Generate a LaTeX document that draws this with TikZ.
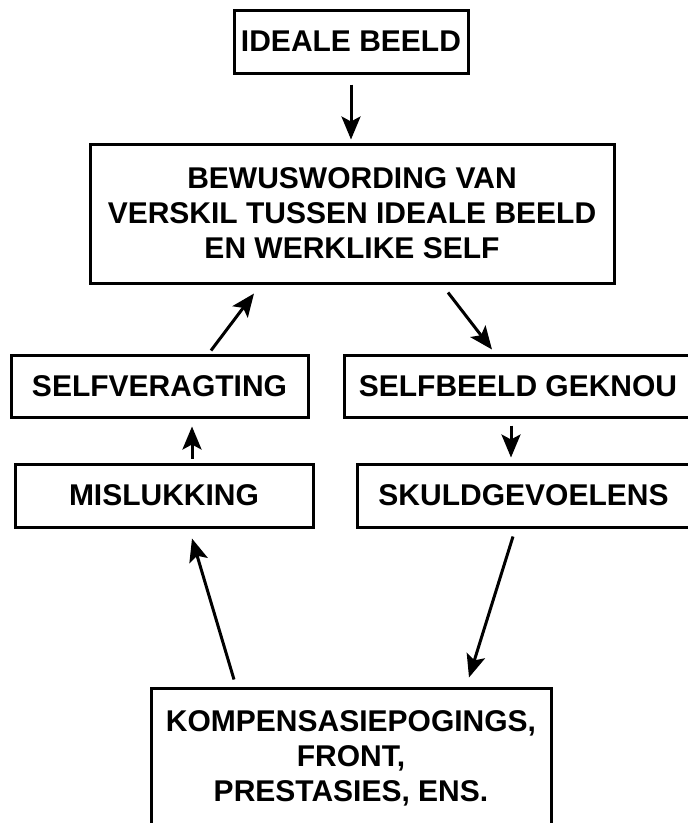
\documentclass[tikz,border=0pt]{standalone}
\usepackage{fontspec}
\setmainfont{Liberation Sans}
\usetikzlibrary{arrows.meta}

\begin{document}
\begin{tikzpicture}[x=1pt,y=-1pt,
    box/.style={draw,line width=3pt,inner sep=0pt,align=center,
      font=\fontsize{30}{35}\selectfont\bfseries},
    arr/.style={line width=3pt,-{Stealth[length=23pt,width=19pt,inset=5pt]}}]
  \useasboundingbox (0,0) rectangle (688,823);

% top boxes
  \node[box,minimum width=234,minimum height=63] (ideal) at (351,41.5) {IDEALE BEELD};
  \node[box,minimum width=524,minimum height=139] (bewus) at (352,213.5)
       {BEWUSWORDING VAN\\VERSKIL TUSSEN IDEALE BEELD\\EN WERKLIKE SELF};

% left and right columns
  \node[box,minimum width=297,minimum height=62] (veragt) at (159.5,386) {SELFVERAGTING};
  \node[box,minimum width=348,minimum height=62] (geknou) at (518,386) {SELFBEELD GEKNOU};
  \node[box,minimum width=298,minimum height=63] (misluk) at (164,495.5) {MISLUKKING};
  \node[box,minimum width=333,minimum height=63] (skuld) at (523.5,495.5) {SKULDGEVOELENS};

% bottom box (cut off at the page edge)
  \node[box,minimum width=400,minimum height=140] (komp) at (351,758)
       {KOMPENSASIEPOGINGS,\\FRONT,\\PRESTASIES, ENS.};

% arrows
  \draw[arr,shorten <=10pt,shorten >=3pt] (ideal.south) -- (ideal.south |- bewus.north);
  \draw[arr] ([xshift=51.5pt,yshift=3pt]veragt.north) -- ([xshift=-98pt,yshift=-9pt]bewus.south);
  \draw[arr] ([xshift=96pt,yshift=-8pt]bewus.south) -- ([xshift=-26pt,yshift=4pt]geknou.north);
  \draw[arr,shorten <=4pt,shorten >=8pt] ([xshift=28pt]misluk.north) -- ([xshift=28pt]misluk.north |- veragt.south);
  \draw[arr,shorten <=7pt,shorten >=5pt] ([xshift=-7pt]geknou.south) -- ([xshift=-7pt]geknou.south |- skuld.north);
  \draw[arr] ([xshift=-117pt,yshift=7pt]komp.north) -- ([xshift=28pt,yshift=-10pt]misluk.south);
  \draw[arr] ([xshift=-10.5pt,yshift=-8pt]skuld.south) -- ([xshift=118pt,yshift=9pt]komp.north);
\end{tikzpicture}
\end{document}
